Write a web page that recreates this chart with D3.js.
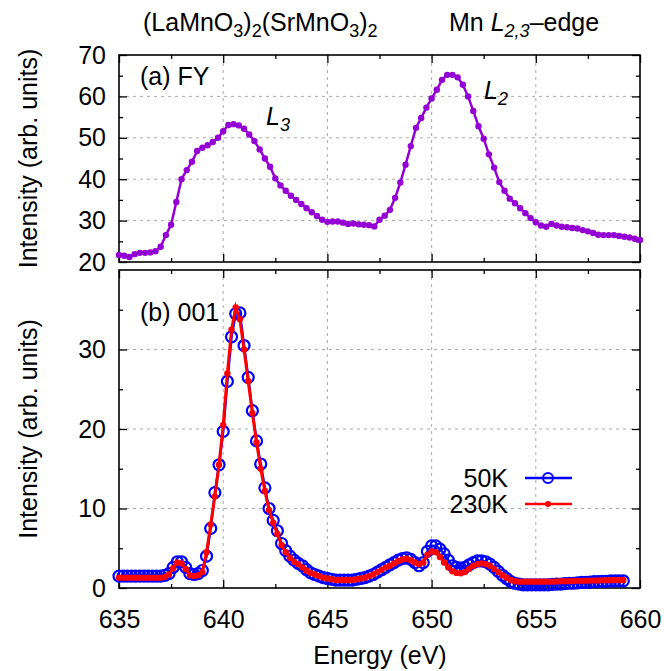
<!DOCTYPE html>
<html>
<head>
<meta charset="utf-8">
<script src="https://cdn.jsdelivr.net/npm/d3@7"></script>
<style>
  body { margin: 0; background: #fff; }
  svg text { font-family: "Liberation Sans", Arial, Helvetica, sans-serif; fill: #000; }
</style>
</head>
<body>
<div id="viz"></div>
<script>
// ---- data ----
var fyEnergy = [635, 635.25, 635.5, 635.75, 636, 636.25, 636.5, 636.75, 637, 637.25, 637.5, 637.75,
  638, 638.25, 638.5, 638.75, 639, 639.25, 639.5, 639.75, 640, 640.25, 640.5, 640.75,
  641, 641.25, 641.5, 641.75, 642, 642.25, 642.5, 642.75, 643, 643.25, 643.5, 643.75,
  644, 644.25, 644.5, 644.75, 645, 645.25, 645.5, 645.75, 646, 646.25, 646.5, 646.75,
  647, 647.25, 647.5, 647.75, 648, 648.25, 648.5, 648.75, 649, 649.25, 649.5, 649.75,
  650, 650.25, 650.5, 650.75, 651, 651.25, 651.5, 651.75, 652, 652.25, 652.5, 652.75,
  653, 653.25, 653.5, 653.75, 654, 654.25, 654.5, 654.75, 655, 655.25, 655.5, 655.75,
  656, 656.25, 656.5, 656.75, 657, 657.25, 657.5, 657.75, 658, 658.25, 658.5, 658.75,
  659, 659.25, 659.5, 659.75, 660];
var fyIntensity = [21.7, 21.5, 21.2, 21.9, 22.2, 22.2, 22.3, 22.6, 23.7, 26.5, 29.0, 34.5,
  40.0, 42.2, 44.2, 46.8, 47.6, 48.2, 49.0, 50.0, 51.6, 53.1, 53.3, 53.0,
  52.2, 50.8, 49.2, 47.2, 45.0, 43.0, 40.2, 38.5, 37.2, 36.0, 35.0, 34.0,
  33.0, 32.0, 31.1, 30.2, 29.7, 29.8, 29.8, 29.5, 29.2, 29.3, 29.1, 29.0,
  28.9, 28.6, 30.2, 31.2, 32.6, 35.5, 39.2, 43.5, 48.0, 52.4, 54.8, 57.3,
  59.5, 61.6, 64.0, 65.2, 65.2, 64.6, 62.8, 60.0, 56.5, 52.8, 49.8, 46.0,
  42.8, 39.3, 37.2, 35.3, 34.2, 33.0, 31.8, 30.6, 29.6, 28.8, 28.5, 29.2,
  28.8, 28.5, 28.4, 28.2, 28.1, 27.7, 27.4, 27.0, 26.6, 26.5, 26.5, 26.5,
  26.3, 26.1, 25.9, 25.6, 25.3];

var refEnergy = [635, 635.2, 635.4, 635.6, 635.8, 636, 636.2, 636.4, 636.6, 636.8,
  637, 637.2, 637.4, 637.6, 637.8, 638, 638.2, 638.4, 638.6, 638.8,
  639, 639.2, 639.4, 639.6, 639.8, 640, 640.2, 640.4, 640.6, 640.8,
  641, 641.2, 641.4, 641.6, 641.8, 642, 642.2, 642.4, 642.6, 642.8,
  643, 643.2, 643.4, 643.6, 643.8, 644, 644.2, 644.4, 644.6, 644.8,
  645, 645.2, 645.4, 645.6, 645.8, 646, 646.2, 646.4, 646.6, 646.8,
  647, 647.2, 647.4, 647.6, 647.8, 648, 648.2, 648.4, 648.6, 648.8,
  649, 649.2, 649.4, 649.6, 649.8, 650, 650.2, 650.4, 650.6, 650.8,
  651, 651.2, 651.4, 651.6, 651.8, 652, 652.2, 652.4, 652.6, 652.8,
  653, 653.2, 653.4, 653.6, 653.8, 654, 654.2, 654.4, 654.6, 654.8,
  655, 655.2, 655.4, 655.6, 655.8, 656, 656.2, 656.4, 656.6, 656.8,
  657, 657.2, 657.4, 657.6, 657.8, 658, 658.2, 658.4, 658.6, 658.8,
  659, 659.2];
var int50K = [1.5, 1.5, 1.5, 1.5, 1.5, 1.5, 1.5, 1.5, 1.5, 1.5,
  1.5, 1.6, 1.8, 2.6, 3.3, 3.3, 2.6, 1.8, 1.7, 1.8,
  2.2, 4.0, 7.5, 12.0, 15.5, 19.7, 26.0, 31.6, 34.5, 34.6,
  30.5, 26.5, 22.3, 18.5, 15.6, 12.6, 10.0, 8.5, 7.2, 5.6,
  4.7, 4.0, 3.5, 3.1, 2.8, 2.3, 1.9, 1.7, 1.5, 1.3,
  1.2, 1.1, 1.0, 1.0, 1.0, 1.0, 1.0, 1.1, 1.2, 1.3,
  1.5, 1.7, 2.0, 2.3, 2.6, 2.9, 3.2, 3.5, 3.7, 3.8,
  3.6, 3.2, 2.8, 3.2, 4.6, 5.3, 5.3, 4.9, 4.3, 3.5,
  2.8, 2.6, 2.5, 2.6, 2.9, 3.2, 3.4, 3.4, 3.3, 3.0,
  2.6, 2.1, 1.6, 1.2, 0.8, 0.6, 0.5, 0.4, 0.4, 0.4,
  0.4, 0.4, 0.4, 0.4, 0.45, 0.5, 0.5, 0.55, 0.6, 0.6,
  0.65, 0.7, 0.7, 0.75, 0.8, 0.8, 0.85, 0.85, 0.9, 0.9,
  0.9, 0.9];
var int230K = [1.3, 1.3, 1.3, 1.3, 1.3, 1.3, 1.3, 1.3, 1.3, 1.3,
  1.3, 1.4, 1.7, 2.5, 3.2, 3.1, 2.4, 1.6, 1.5, 1.6,
  2.0, 4.5, 8.0, 11.5, 15.5, 20.5, 27.0, 32.5, 35.3, 33.8,
  30.0, 26.0, 22.0, 18.3, 15.0, 12.2, 9.8, 8.2, 6.8, 5.4,
  4.5, 3.8, 3.3, 3.0, 2.6, 2.2, 1.9, 1.7, 1.5, 1.3,
  1.2, 1.1, 1.0, 1.0, 1.0, 1.0, 1.0, 1.1, 1.2, 1.3,
  1.5, 1.7, 2.0, 2.3, 2.6, 2.8, 3.1, 3.4, 3.6, 3.7,
  3.5, 3.2, 3.0, 3.2, 4.2, 4.6, 4.5, 3.9, 3.2, 2.6,
  2.1, 1.9, 1.85, 2.0, 2.4, 2.8, 3.0, 3.1, 3.0, 2.8,
  2.4, 2.0, 1.6, 1.3, 1.0, 0.85, 0.8, 0.8, 0.8, 0.8,
  0.8, 0.8, 0.8, 0.8, 0.8, 0.82, 0.84, 0.85, 0.86, 0.88,
  0.9, 0.9, 0.92, 0.93, 0.95, 0.95, 0.96, 0.97, 0.98, 1.0,
  1.0, 1.0];

var xMajor = [635, 640, 645, 650, 655, 660];
var xMinor = [637.5, 642.5, 647.5, 652.5, 657.5];
var yMajorA = [20, 30, 40, 50, 60, 70];
var yMinorA = [25, 35, 45, 55, 65];
var yMajorB = [0, 10, 20, 30];
var yMinorB = [5, 15, 25, 35];
var seriesNames = ['50K', '230K'];

function makeChart() {
    var width = 664, height = 671;
    var left = 119, right = 640;
    var fs = '25px', fsSub = '18px';

    var svg = d3.select('#viz').append('svg')
        .attr('width', width)
        .attr('height', height);

    var x = d3.scaleLinear().domain([635, 660]).range([left, right]);
    var yA = d3.scaleLinear().domain([20, 70]).range([262, 55]);
    var yB = d3.scaleLinear().domain([0, 40]).range([588, 270]);

    function frame(y, yMajor, yMinor, showX) {
        var y0 = y.range()[0], y1 = y.range()[1];
        var g = svg.append('g');
        // dashed grid at inner major ticks
        g.selectAll('line.gx').data(xMajor.slice(1, -1)).enter().append('line')
            .attr('x1', function (d) { return x(d); }).attr('x2', function (d) { return x(d); })
            .attr('y1', y0).attr('y2', y1)
            .attr('stroke', '#aaa').attr('stroke-width', 1).attr('stroke-dasharray', '3,4');
        g.selectAll('line.gy').data(yMajor.filter(function (d) { return y(d) < y0 - 1 && y(d) > y1 + 1; }))
            .enter().append('line')
            .attr('x1', left).attr('x2', right)
            .attr('y1', function (d) { return y(d); }).attr('y2', function (d) { return y(d); })
            .attr('stroke', '#aaa').attr('stroke-width', 1).attr('stroke-dasharray', '3,4');

        // ticks on all four sides, pointing in
        var fmt = function () { return ''; };
        g.append('g').attr('transform', 'translate(0,' + y0 + ')')
            .call(d3.axisBottom(x).tickValues(xMajor).tickSize(-8).tickFormat(fmt));
        g.append('g').attr('transform', 'translate(0,' + y0 + ')')
            .call(d3.axisBottom(x).tickValues(xMinor).tickSize(-4).tickFormat(fmt));
        g.append('g').attr('transform', 'translate(0,' + y1 + ')')
            .call(d3.axisTop(x).tickValues(xMajor).tickSize(-8).tickFormat(fmt));
        g.append('g').attr('transform', 'translate(0,' + y1 + ')')
            .call(d3.axisTop(x).tickValues(xMinor).tickSize(-4).tickFormat(fmt));
        g.append('g').attr('transform', 'translate(' + left + ',0)')
            .call(d3.axisLeft(y).tickValues(yMajor).tickSize(-8).tickPadding(13).tickFormat(d3.format('d')));
        g.append('g').attr('transform', 'translate(' + left + ',0)')
            .call(d3.axisLeft(y).tickValues(yMinor).tickSize(-4).tickFormat(fmt));
        g.append('g').attr('transform', 'translate(' + right + ',0)')
            .call(d3.axisRight(y).tickValues(yMajor).tickSize(-8).tickFormat(fmt));
        g.append('g').attr('transform', 'translate(' + right + ',0)')
            .call(d3.axisRight(y).tickValues(yMinor).tickSize(-4).tickFormat(fmt));
        if (showX) {
            g.append('g').attr('transform', 'translate(0,' + y0 + ')')
                .call(d3.axisBottom(x).tickValues(xMajor).tickSize(0).tickPadding(22).tickFormat(d3.format('d')));
        }
        g.selectAll('.domain').remove();
        g.selectAll('.tick line').attr('stroke', '#000').attr('stroke-width', 1.3);
        g.selectAll('.tick text').style('font-size', fs).attr('fill', '#000');

        g.append('rect')
            .attr('x', left).attr('y', y1)
            .attr('width', right - left).attr('height', y0 - y1)
            .attr('fill', 'none').attr('stroke', '#000').attr('stroke-width', 1.6);

        svg.append('text')
            .attr('transform', 'translate(37,' + ((y0 + y1) / 2) + ') rotate(-90)')
            .attr('text-anchor', 'middle')
            .style('font-size', fs)
            .text('Intensity (arb. units)');
        return g;
    }

    frame(yA, yMajorA, yMinorA, false);
    frame(yB, yMajorB, yMinorB, true);

    // (a) FY curve
    var fy = fyEnergy.map(function (e, i) { return { x: e, y: fyIntensity[i] }; });
    var lineA = d3.line().x(function (d) { return x(d.x); }).y(function (d) { return yA(d.y); });
    svg.append('path').datum(fy)
        .attr('d', lineA).attr('fill', 'none')
        .attr('stroke', '#9400d3').attr('stroke-width', 2.5);
    svg.append('g').selectAll('circle').data(fy).enter().append('circle')
        .attr('cx', function (d) { return x(d.x); })
        .attr('cy', function (d) { return yA(d.y); })
        .attr('r', 3.2).attr('fill', '#9400d3');

    // (b) 001 curves
    var lineB = d3.line().x(function (d) { return x(d.x); }).y(function (d) { return yB(d.y); });
    var blue = refEnergy.map(function (e, i) { return { x: e, y: int50K[i] }; });
    var red = refEnergy.map(function (e, i) { return { x: e, y: int230K[i] }; });

    svg.append('path').datum(blue)
        .attr('d', lineB).attr('fill', 'none')
        .attr('stroke', '#0000ff').attr('stroke-width', 2.5);
    svg.append('g').selectAll('circle').data(blue).enter().append('circle')
        .attr('cx', function (d) { return x(d.x); })
        .attr('cy', function (d) { return yB(d.y); })
        .attr('r', 5.5).attr('fill', 'none')
        .attr('stroke', '#0000ff').attr('stroke-width', 2.2);

    svg.append('path').datum(red)
        .attr('d', lineB).attr('fill', 'none')
        .attr('stroke', '#ff0000').attr('stroke-width', 3);
    svg.append('g').selectAll('circle').data(red).enter().append('circle')
        .attr('cx', function (d) { return x(d.x); })
        .attr('cy', function (d) { return yB(d.y); })
        .attr('r', 3.2).attr('fill', '#ff0000');

    // legend
    var leg = svg.append('g');
    var legY = [478, 504];
    var legCol = ['#0000ff', '#ff0000'];
    seriesNames.forEach(function (name, i) {
        leg.append('text').attr('x', 508).attr('y', legY[i] + 9)
            .attr('text-anchor', 'end').style('font-size', fs).text(name);
        leg.append('line').attr('x1', 525).attr('x2', 572)
            .attr('y1', legY[i]).attr('y2', legY[i])
            .attr('stroke', legCol[i]).attr('stroke-width', 2.5);
        if (i == 0) {
            leg.append('circle').attr('cx', 548).attr('cy', legY[i]).attr('r', 5)
                .attr('fill', 'none').attr('stroke', legCol[i]).attr('stroke-width', 2);
        } else {
            leg.append('circle').attr('cx', 548).attr('cy', legY[i]).attr('r', 3)
                .attr('fill', legCol[i]);
        }
    });

    // labels
    svg.append('text').attr('x', 140).attr('y', 85).style('font-size', fs).text('(a) FY');
    svg.append('text').attr('x', 140).attr('y', 321).style('font-size', fs).text('(b) 001');

    var l3 = svg.append('text').attr('x', 266).attr('y', 125).style('font-size', fs);
    l3.append('tspan').style('font-style', 'italic').text('L');
    l3.append('tspan').attr('dy', 6).style('font-size', fsSub).style('font-style', 'italic').text('3');
    var l2 = svg.append('text').attr('x', 484).attr('y', 99).style('font-size', fs);
    l2.append('tspan').style('font-style', 'italic').text('L');
    l2.append('tspan').attr('dy', 6).style('font-size', fsSub).style('font-style', 'italic').text('2');

    svg.append('text').attr('x', 380).attr('y', 664)
        .attr('text-anchor', 'middle').style('font-size', fs).text('Energy (eV)');

    // title
    var t1 = svg.append('text').attr('x', 143).attr('y', 31).style('font-size', fs);
    t1.append('tspan').text('(LaMnO');
    t1.append('tspan').attr('dy', 6).style('font-size', fsSub).text('3');
    t1.append('tspan').attr('dy', -6).text(')');
    t1.append('tspan').attr('dy', 6).style('font-size', fsSub).text('2');
    t1.append('tspan').attr('dy', -6).text('(SrMnO');
    t1.append('tspan').attr('dy', 6).style('font-size', fsSub).text('3');
    t1.append('tspan').attr('dy', -6).text(')');
    t1.append('tspan').attr('dy', 6).style('font-size', fsSub).text('2');

    var t2 = svg.append('text').attr('x', 449).attr('y', 31).style('font-size', fs);
    t2.append('tspan').text('Mn ');
    t2.append('tspan').style('font-style', 'italic').text('L');
    t2.append('tspan').attr('dy', 6).style('font-size', fsSub).style('font-style', 'italic').text('2,3');
    t2.append('tspan').attr('dy', -6).text('\u2013edge');
}

makeChart();
</script>
</body>
</html>
